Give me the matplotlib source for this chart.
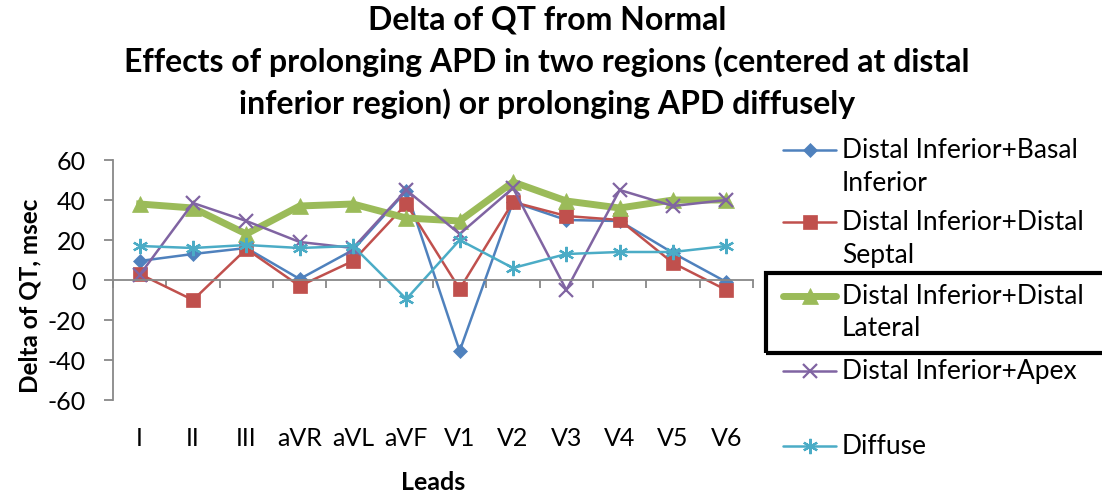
import matplotlib
matplotlib.use("Agg")
from matplotlib import pyplot as plt
from matplotlib.lines import Line2D
from matplotlib.patches import Rectangle
import numpy as np

plt.rcParams['font.family'] = ['Lato', 'DejaVu Sans']
plt.rcParams['axes.unicode_minus'] = False

leads = ['I', 'II', 'III', 'aVR', 'aVL', 'aVF', 'V1', 'V2', 'V3', 'V4', 'V5', 'V6']

basal_inferior = [9.5, 13, 16, 0.5, 15, 44.5, -35.5, 39, 30, 29.5, 13.5, -1]
distal_septal = [3, -10, 15.5, -3, 9.5, 38, -4.5, 39, 32, 30, 8.5, -5]
distal_lateral = [38, 36, 23, 37, 38, 31, 29.5, 49, 39.5, 36, 40, 40]
apex = [2.5, 38.5, 29.5, 19, 16, 45, 23, 46, -5, 45, 37, 40]
diffuse = [17, 16, 17.5, 16, 17, -9.5, 20, 6, 13, 14, 14, 17]

names = ['Distal Inferior+Basal\nInferior', 'Distal Inferior+Distal\nSeptal',
         'Distal Inferior+Distal\nLateral', 'Distal Inferior+Apex', 'Diffuse']
title_lines = ['Delta of QT from Normal',
               'Effects of prolonging APD in two regions (centered at distal',
               'inferior region) or prolonging APD diffusely']
series = [basal_inferior, distal_septal, distal_lateral, apex, diffuse]
colors = ['#4F81BD', '#C0504D', '#9BBB59', '#8064A2', '#4BACC6']
markers = ['D', 's', '^', 'x', (6, 2, 0)]
msizes = [7, 10, 11, 10, 11]
lwidths = [1.8, 1.8, 5, 1.8, 1.8]

fig = plt.figure(figsize=(11.02, 4.97), dpi=100)
ax = fig.add_axes([113 / 1102, 1 - 400 / 497, 640 / 1102, 240 / 497])

x = np.arange(len(leads))
for vals, c, m, ms, lw in zip(series, colors, markers, msizes, lwidths):
    ax.plot(x, vals, color=c, marker=m, markersize=ms, linewidth=lw,
            markeredgewidth=1.6 if m in ('x', (6, 2, 0)) else 0.5,
            markeredgecolor=c, markerfacecolor=c, clip_on=False)

ax.set_xlim(-0.5, 11.5)
ax.set_ylim(-60, 60)
ax.set_yticks(np.arange(-60, 61, 20))
for s in ['top', 'right']:
    ax.spines[s].set_visible(False)
ax.spines['left'].set_color('#888888')
ax.spines['bottom'].set_color('#888888')
ax.spines['left'].set_linewidth(1.3)
ax.spines['bottom'].set_linewidth(1.3)
ax.spines['bottom'].set_position(('data', 0))
ax.tick_params(axis='y', colors='#888888', labelcolor='black', labelsize=18,
               length=6.5, width=1.3, direction='out', pad=13)
ax.set_xticks(x, leads)
ax.set_xticks(np.arange(-0.5, 12, 1), minor=True)
ax.tick_params(axis='x', which='major', length=0, pad=106, labelsize=18)
ax.tick_params(axis='x', which='minor', length=6, width=1.3, direction='out',
               colors='#888888')

fig.text(30 / 1102, 1 - 296 / 497, 'Delta of QT, msec', rotation=90, ha='center',
         va='center', fontsize=17.5, fontweight='bold')
fig.text(433 / 1102, 1 - 482 / 497, 'Leads', ha='center', va='center',
         fontsize=18, fontweight='bold')
for line, y in zip(title_lines, [20, 62, 104]):
    fig.text(547 / 1102, 1 - y / 497, line, ha='center', va='center',
             fontsize=23, fontweight='bold')

# legend drawn by hand to follow the reference slot layout
entry_y = [150, 222, 296, 371, 446]
for name, c, m, ms, lw, y in zip(names, colors, markers, msizes, lwidths, entry_y):
    yf = 1 - y / 497
    fig.add_artist(Line2D([783 / 1102, 836 / 1102], [yf, yf], color=c, linewidth=lw,
                          solid_capstyle='round'))
    fig.add_artist(Line2D([809.5 / 1102], [yf], color=c, marker=m, markersize=ms,
                          markeredgewidth=1.6 if m in ('x', (6, 2, 0)) else 0.5,
                          markeredgecolor=c, markerfacecolor=c))
    for i, part in enumerate(name.split('\n')):
        fig.text(842 / 1102, 1 - (y + 33 * i) / 497, part, ha='left', va='center',
                 fontsize=19)

fig.add_artist(Rectangle((766 / 1102, 1 - 353 / 497), 340 / 1102, 80 / 497,
                         fill=False, edgecolor='black', linewidth=3,
                         transform=fig.transFigure))

fig.savefig('out.png', dpi=100)
